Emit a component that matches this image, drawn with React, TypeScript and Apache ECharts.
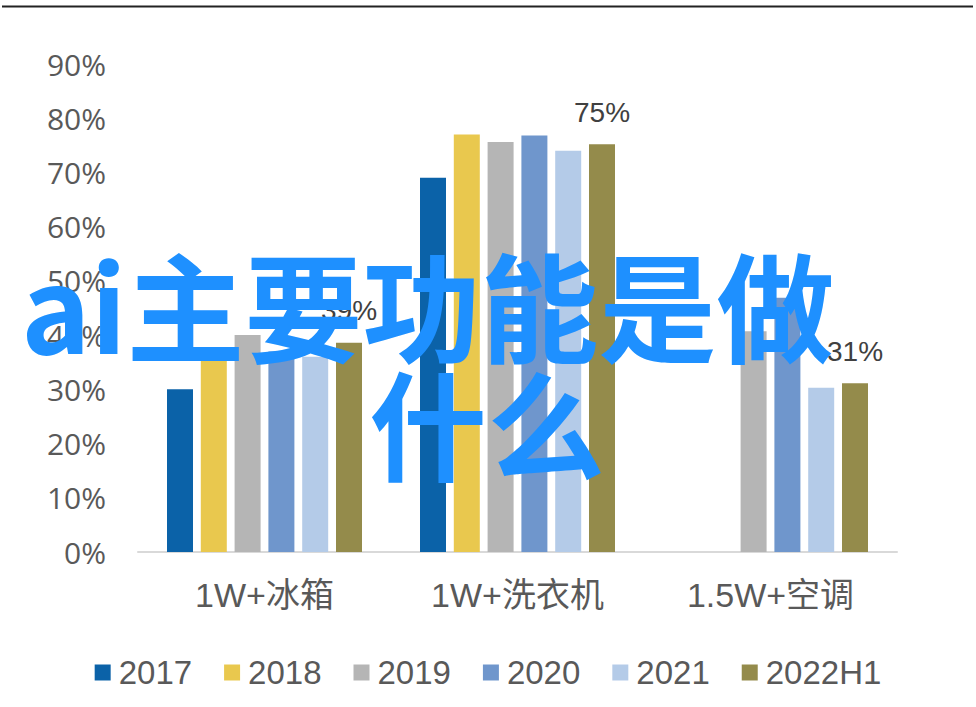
import React, { useEffect, useRef } from "react";
import * as echarts from "echarts";

const categories = ["1W+冰箱", "1W+洗衣机", "1.5W+空调"];
const seriesNames = ["2017", "2018", "2019", "2020", "2021", "2022H1"];
const v2017 = [30, 69, null];
const v2018 = [35.5, 77, null];
const v2019 = [40, 75.6, 40.7];
const v2020 = [37, 76.8, 46.9];
const v2021 = [36, 74, 30.3];
const v2022H1 = [38.6, 75.2, 31.1];
const seriesValues = [v2017, v2018, v2019, v2020, v2021, v2022H1];
const colors = ["#0B62A8", "#E9C84E", "#B5B5B5", "#6F96CC", "#B4CBE8", "#948B4B"];
const yTicks = { min: 0, max: 90, interval: 10 };
const titleLine1 = "ai主要功能是做";
const titleLine2 = "什么";

export default function App() {
  const ref = useRef<HTMLDivElement>(null);
  useEffect(() => {
    if (!ref.current) return;
    const chart = echarts.init(ref.current, undefined, { renderer: "svg" });
    const series = seriesNames.map((name, i) => ({
      name,
      type: "bar",
      data: seriesValues[i],
      barWidth: 26,
      barGap: "30%",
      itemStyle: { color: colors[i] },
      label:
        i === seriesNames.length - 1
          ? {
              show: true,
              position: "top",
              distance: 18,
              fontSize: 28,
              color: "#404040",
              fontFamily: "'Liberation Sans', Arial, sans-serif",
              formatter: (p: any) => Math.round(p.value) + "%",
            }
          : { show: false },
    }));
    chart.setOption({
      animation: false,
      color: colors,
      grid: { left: 138, right: 79, top: 64, bottom: 155 },
      legend: {
        data: seriesNames,
        left: "center",
        top: 651,
        icon: "rect",
        itemWidth: 16,
        itemHeight: 16,
        itemGap: 32,
        textStyle: {
          fontSize: 33,
          color: "#595959",
          fontFamily: "'Liberation Sans', Arial, sans-serif",
          padding: [0, 0, 0, 3],
        },
      },
      xAxis: {
        type: "category",
        data: categories,
        axisLine: { lineStyle: { color: "#D9D9D9", width: 2 } },
        axisTick: { show: false },
        axisLabel: {
          fontSize: 34,
          color: "#595959",
          margin: 26,
          fontFamily: "'Liberation Sans', 'Noto Sans CJK SC', sans-serif",
        },
      },
      yAxis: {
        type: "value",
        min: yTicks.min,
        max: yTicks.max,
        interval: yTicks.interval,
        splitLine: { show: false },
        axisLine: { show: false },
        axisTick: { show: false },
        axisLabel: {
          formatter: "{value}%",
          fontSize: 30,
          color: "#595959",
          margin: 32,
          fontFamily: "'Open Sans', 'Noto Sans', sans-serif",
        },
      },
      series,
      graphic: [
        {
          type: "line",
          shape: { x1: 2, y1: 6.5, x2: 973, y2: 6.5 },
          style: { stroke: "#222222", lineWidth: 2 },
          z: 100,
        },
        {
          type: "text",
          x: 21,
          y: 302,
          z: 100,
          style: {
            text: titleLine1,
            fill: "#1E90FF",
            font: "bold 118px 'Noto Sans CJK SC'",
            textAlign: "left",
            textVerticalAlign: "middle",
          },
        },
        {
          type: "text",
          x: 487,
          y: 420,
          z: 100,
          style: {
            text: titleLine2,
            fill: "#1E90FF",
            font: "bold 118px 'Noto Sans CJK SC'",
            textAlign: "center",
            textVerticalAlign: "middle",
          },
        },
      ],
    });
    return () => chart.dispose();
  }, []);
  return (
    <div
      ref={ref}
      style={{ position: "fixed", left: 0, top: 0, width: 976, height: 707, background: "#fff" }}
    />
  );
}
